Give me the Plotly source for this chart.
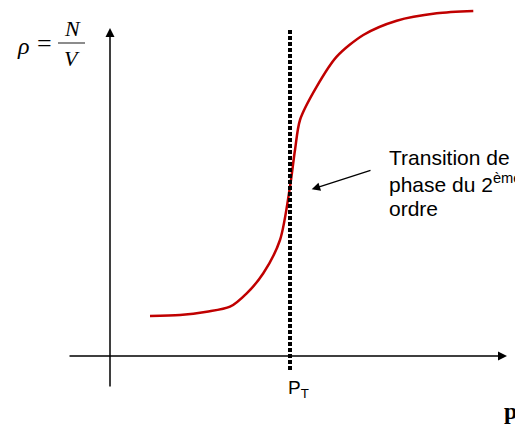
import plotly.graph_objects as go

# Schematic data (p relative to origin, rho relative to origin)
pressure = [40, 70, 96.7, 120, 136.7, 153.3, 170, 180, 185, 190, 206.7, 226.7, 253.3, 286.7, 326.7, 363.3]
density = [40, 41, 44.3, 49.3, 62.7, 82.7, 116, 169.3, 206, 236, 269.3, 299.3, 321, 335.3, 342.7, 345]
p_transition = 180
transition_line_y = [-14, 328]
label_lines = ["Transition de", "phase du 2<sup>ème</sup>", "ordre"]
label_y = [199, 173, 148]

fig = go.Figure()

fig.add_trace(go.Scatter(x=pressure, y=density, mode="lines",
                         line=dict(color="#c00000", width=2.5, shape="spline", smoothing=0.8),
                         hoverinfo="skip", showlegend=False))

fig.add_trace(go.Scatter(x=[p_transition, p_transition], y=transition_line_y, mode="lines",
                         line=dict(color="black", width=4, dash="4px,2px"),
                         hoverinfo="skip", showlegend=False))

annotations = []
# x axis arrow
annotations.append(dict(x=397, y=0, ax=-42, ay=0, xref="x", yref="y", axref="x", ayref="y",
                        showarrow=True, arrowhead=2, arrowsize=1.2, arrowwidth=1.5,
                        arrowcolor="black", text=""))
# y axis arrow
annotations.append(dict(x=0, y=328, ax=0, ay=-32, xref="x", yref="y", axref="x", ayref="y",
                        showarrow=True, arrowhead=2, arrowsize=1.2, arrowwidth=1.5,
                        arrowcolor="black", text=""))
# transition arrow
annotations.append(dict(x=201.7, y=166.7, ax=262, ay=186, xref="x", yref="y", axref="x", ayref="y",
                        showarrow=True, arrowhead=2, arrowsize=1.3, arrowwidth=1.3,
                        arrowcolor="black", text=""))
# transition label, one annotation per line
for txt, yy in zip(label_lines, label_y):
    annotations.append(dict(x=277, y=yy, xref="x", yref="y", xanchor="left", yanchor="middle",
                            showarrow=False, align="left", text=txt,
                            font=dict(family="Liberation Sans", size=21, color="black")))
# P_T
annotations.append(dict(x=188, y=-33, xref="x", yref="y", showarrow=False,
                        text="P<sub>T</sub>",
                        font=dict(family="Liberation Sans", size=19, color="black")))
# p label
annotations.append(dict(x=400, y=-55, xref="x", yref="y", showarrow=False,
                        text="<b>p</b>",
                        font=dict(family="Liberation Serif", size=24, color="black")))
# rho = N / V
annotations.append(dict(x=-87, y=310, xref="x", yref="y", showarrow=False,
                        text="<i>ρ</i>",
                        font=dict(family="Liberation Serif", size=24, color="black")))
annotations.append(dict(x=-66, y=313, xref="x", yref="y", showarrow=False,
                        text="=",
                        font=dict(family="Liberation Serif", size=26, color="black")))
annotations.append(dict(x=-38, y=328, xref="x", yref="y", showarrow=False,
                        text="<i>N</i>",
                        font=dict(family="Liberation Serif", size=22, color="black")))
annotations.append(dict(x=-38, y=298, xref="x", yref="y", showarrow=False,
                        text="<i>V</i>",
                        font=dict(family="Liberation Serif", size=22, color="black")))

shapes = [dict(type="line", xref="x", yref="y", x0=-52, x1=-25, y0=313, y1=313,
               line=dict(color="#666666", width=1.5))]

fig.update_layout(
    width=515, height=423,
    margin=dict(l=0, r=0, t=0, b=0),
    paper_bgcolor="white", plot_bgcolor="white",
    xaxis=dict(range=[-102, 413], visible=False, fixedrange=True),
    yaxis=dict(range=[-75, 348], visible=False, fixedrange=True),
    annotations=annotations, shapes=shapes, showlegend=False,
)

fig.write_html("out.html")
